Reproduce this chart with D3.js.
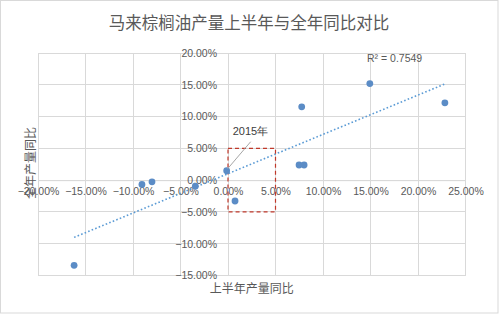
<!DOCTYPE html>
<html>
<head>
<meta charset="utf-8">
<script src="https://cdn.jsdelivr.net/npm/d3@7"></script>
<style>
  html, body { margin: 0; padding: 0; background: #fff; }
  svg { display: block; }
</style>
</head>
<body>
<svg id="chart" width="500" height="316"></svg>
<script>
// ---- data ----
const title = "马来棕榈油产量上半年与全年同比对比";
const xTitle = "上半年产量同比";
const yTitle = "全年产量同比";
const h1Growth   = [-0.162, -0.0906, -0.080, -0.0344, -0.0014, 0.0074, 0.0776, 0.0748, 0.0801, 0.1493, 0.2283];
const fullGrowth = [-0.134, -0.0068, -0.0027, -0.0095, 0.0148, -0.0328, 0.1154, 0.0238, 0.0238, 0.1519, 0.1217];
const xTicks = [-0.20, -0.15, -0.10, -0.05, 0, 0.05, 0.10, 0.15, 0.20, 0.25];
const yTicks = [-0.15, -0.10, -0.05, 0, 0.05, 0.10, 0.15, 0.20];
const rSquaredLabel = "R² = 0.7549";
const annotIndex = 4;
const annotText = "2015年";
const boxX = [0, 0.05];
const boxY = [-0.05, 0.05];

// ---- layout ----
const svg = d3.select("#chart");
const latin = "'Liberation Sans', Arial, sans-serif";
const cjk = "'Noto Sans CJK SC', 'Noto Sans', sans-serif";
const textColor = "#595959";
const gridColor = "#d9d9d9";
const pointColor = "#5b8cc6";

const x = d3.scaleLinear().domain([-0.20, 0.25]).range([38, 465.5]);
const y = d3.scaleLinear().domain([-0.15, 0.20]).range([275.5, 53]);
const fmt = d3.format(".2%");

// chart frame
svg.append("rect").attr("x", 0.5).attr("y", 0.5).attr("width", 497.5).attr("height", 312.5)
  .attr("fill", "#fff").attr("stroke", gridColor);

// title
svg.append("text").attr("x", 249).attr("y", 29).attr("text-anchor", "middle")
  .attr("font-family", cjk).attr("font-size", 16.5).attr("fill", textColor).text(title);

// gridlines
svg.append("g").selectAll("line").data(xTicks).join("line")
  .attr("x1", d => x(d)).attr("x2", d => x(d)).attr("y1", y(0.20)).attr("y2", y(-0.15))
  .attr("stroke", gridColor).attr("stroke-width", 1).attr("shape-rendering", "crispEdges");
svg.append("g").selectAll("line").data(yTicks).join("line")
  .attr("y1", d => y(d)).attr("y2", d => y(d)).attr("x1", x(-0.20)).attr("x2", x(0.25))
  .attr("stroke", gridColor).attr("stroke-width", 1).attr("shape-rendering", "crispEdges");

// axes through origin (labels only, via d3 axes)
const xAxis = d3.axisBottom(x).tickValues(xTicks).tickFormat(fmt).tickSize(0).tickPadding(7);
const gx = svg.append("g").attr("transform", `translate(0,${y(0)})`).call(xAxis);
const yAxis = d3.axisLeft(y).tickValues(yTicks).tickFormat(fmt).tickSize(0).tickPadding(11);
const gy = svg.append("g").attr("transform", `translate(${x(0)},0)`).call(yAxis);
[gx, gy].forEach(g => {
  g.select(".domain").attr("stroke", gridColor);
  g.selectAll("text").attr("font-family", latin).attr("font-size", 10.5).attr("fill", textColor);
});

// axis titles
svg.append("text").attr("x", x(0.025)).attr("y", 293).attr("text-anchor", "middle")
  .attr("font-family", cjk).attr("font-size", 12).attr("fill", textColor).text(xTitle);
svg.append("text").attr("transform", "translate(31,163) rotate(-90)").attr("text-anchor", "middle")
  .attr("dy", "0.35em").attr("font-family", cjk).attr("font-size", 12).attr("fill", textColor).text(yTitle);

// linear trend line from data
const n = h1Growth.length;
const mx = d3.mean(h1Growth), my = d3.mean(fullGrowth);
let sxy = 0, sxx = 0;
for (let i = 0; i < n; i++) { sxy += (h1Growth[i] - mx) * (fullGrowth[i] - my); sxx += (h1Growth[i] - mx) ** 2; }
const slope = sxy / sxx, intercept = my - slope * mx;
const [xmin, xmax] = d3.extent(h1Growth);
svg.append("line")
  .attr("x1", x(xmin)).attr("y1", y(intercept + slope * xmin))
  .attr("x2", x(xmax)).attr("y2", y(intercept + slope * xmax))
  .attr("stroke", "#5b9bd5").attr("stroke-width", 1.6).attr("stroke-dasharray", "1.6,2.2");

// R² label
svg.append("text").attr("x", 367).attr("y", 62).attr("font-family", latin).attr("font-size", 10.5)
  .attr("fill", textColor).text(rSquaredLabel);

// dashed highlight box
svg.append("rect")
  .attr("x", x(boxX[0])).attr("y", y(boxY[1]))
  .attr("width", x(boxX[1]) - x(boxX[0])).attr("height", y(boxY[0]) - y(boxY[1]))
  .attr("fill", "none").attr("stroke", "#c0392b").attr("stroke-width", 1.2).attr("stroke-dasharray", "4,3");

// points
svg.append("g").selectAll("circle").data(h1Growth).join("circle")
  .attr("cx", d => x(d)).attr("cy", (d, i) => y(fullGrowth[i])).attr("r", 3.4)
  .attr("fill", pointColor);

// annotation
const ax = x(h1Growth[annotIndex]), ay = y(fullGrowth[annotIndex]);
svg.append("line").attr("x1", ax + 1).attr("y1", ay - 2).attr("x2", ax + 24).attr("y2", ay - 29)
  .attr("stroke", "#a6a6a6").attr("stroke-width", 1);
svg.append("text").attr("x", ax + 6).attr("y", ay - 36).attr("font-family", latin).attr("font-size", 11)
  .attr("fill", "#404040").text(annotText);
</script>
</body>
</html>
